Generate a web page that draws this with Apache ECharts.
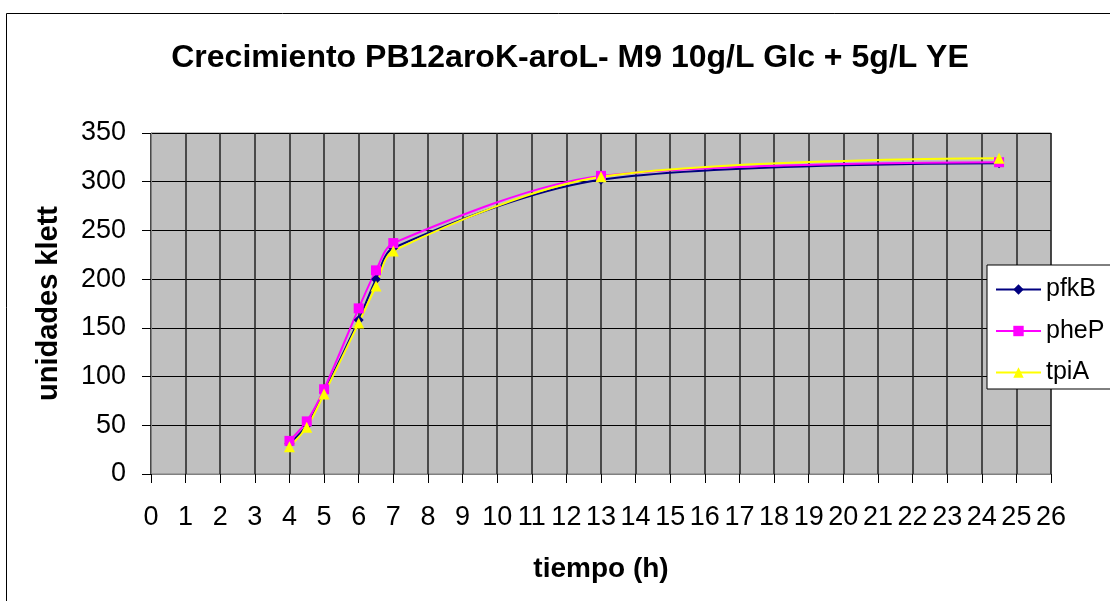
<!DOCTYPE html>
<html><head><meta charset="utf-8">
<script src="https://cdn.jsdelivr.net/npm/echarts@6/dist/echarts.min.js"></script>
<style>html,body{margin:0;padding:0;background:#fff}#c{width:1110px;height:601px}</style>
</head><body><div id="c"></div>
<script>
const hours = [4, 4.5, 5, 6, 6.5, 7, 13, 24.5];
const pfkB = [31, 50, 84, 158, 200, 232, 302, 319];
const pheP = [34, 54, 87, 170, 209, 237, 306, 320];
const tpiA = [28, 48, 82, 155, 193, 229, 305, 324];
const seriesNames = ['pfkB', 'pheP', 'tpiA'];
const xTicks = {min: 0, max: 26, interval: 1};
const yTicks = {min: 0, max: 350, interval: 50};

const font = '"Liberation Sans", Arial, sans-serif';
const pairs = v => hours.map((h, i) => [h, v[i]]);
const chart = echarts.init(document.getElementById('c'));
const mk = (name, vals, color, symbol, size) => ({
  name, type: 'line', data: pairs(vals), smooth: 0.3,
  symbol, symbolSize: size, showSymbol: true,
  lineStyle: {color, width: 2}, itemStyle: {color, borderWidth: 0},
  emphasis: {disabled: true}, animation: false
});
chart.setOption({
  animation: false,
  backgroundColor: '#fff',
  graphic: [{type: 'rect', shape: {x: 6.5, y: 13.5, width: 1200, height: 700},
    style: {fill: 'none', stroke: '#000', lineWidth: 1}, z: 0}],
  title: {text: 'Crecimiento PB12aroK-aroL- M9 10g/L Glc + 5g/L YE', left: 565, top: 37,
    textAlign: 'center',
    textStyle: {fontFamily: font, fontSize: 32, fontWeight: 'bold', color: '#000'}},
  grid: {left: 151, right: 59, top: 133, bottom: 127, show: true,
    backgroundColor: '#C0C0C0', borderColor: '#808080', borderWidth: 1},
  legend: {orient: 'vertical', left: 987, top: 265, data: seriesNames,
    backgroundColor: '#fff', borderColor: '#000', borderWidth: 1, borderRadius: 0,
    padding: [12, 40, 4, 8], itemWidth: 45, itemHeight: 13, itemGap: 16.5,
    textStyle: {fontFamily: font, fontSize: 25, lineHeight: 24, color: '#000'}},
  xAxis: {type: 'value', min: xTicks.min, max: xTicks.max, interval: xTicks.interval,
    name: 'tiempo (h)', nameLocation: 'middle', nameGap: 81,
    nameTextStyle: {fontFamily: font, fontSize: 28, fontWeight: 'bold', color: '#000'},
    axisLine: {show: true, onZero: false, lineStyle: {color: '#808080'}},
    axisTick: {show: true, inside: false, length: 9, lineStyle: {color: '#000'}},
    axisLabel: {margin: 30, fontFamily: font, fontSize: 27, color: '#000'},
    splitLine: {show: true, lineStyle: {color: '#222', width: 1.5}}},
  yAxis: {type: 'value', min: yTicks.min, max: yTicks.max, interval: yTicks.interval,
    name: 'unidades klett', nameLocation: 'middle', nameGap: 88,
    nameTextStyle: {fontFamily: font, fontSize: 29, fontWeight: 'bold', color: '#000'},
    axisLine: {show: true, lineStyle: {color: '#808080'}},
    axisTick: {show: true, inside: false, length: 9, lineStyle: {color: '#000'}},
    axisLabel: {margin: 25, fontFamily: font, fontSize: 27, color: '#000'},
    splitLine: {show: true, lineStyle: {color: '#000', width: 1}}},
  series: [
    mk(seriesNames[0], pfkB, '#000080', 'diamond', 10),
    mk(seriesNames[1], pheP, '#FF00FF', 'rect', 10),
    mk(seriesNames[2], tpiA, '#FFFF00', 'triangle', 11)
  ]
});
</script></body></html>
